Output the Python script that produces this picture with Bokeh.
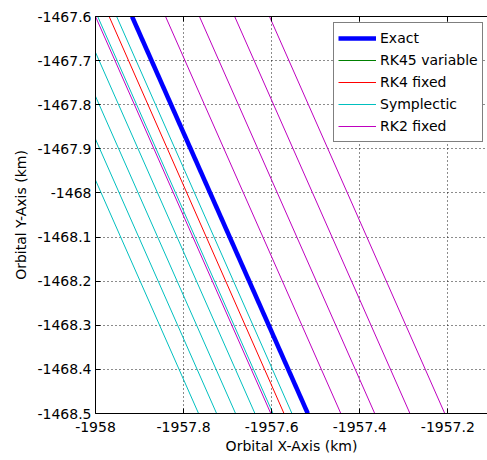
from bokeh.plotting import figure
from bokeh.models import FixedTicker, LinearAxis, CustomJSTickFormatter, Range1d, Legend, LegendItem
from bokeh.embed import file_html
from bokeh.resources import INLINE

# y extent of the plotted segments (km)
Y_TOP = -1467.6
Y_BOT = -1468.5

# x (km) of each trajectory line at Y_TOP and at Y_BOT
exact_top = [-1957.917]
exact_bot = [-1957.518]
rk45_top = [-1957.917]
rk45_bot = [-1957.518]
rk4_top = [-1957.969]
rk4_bot = [-1957.572]
symp_top = [-1958.164, -1958.123, -1958.080, -1958.036, -1957.995, -1957.952]
symp_bot = [-1957.766, -1957.725, -1957.682, -1957.638, -1957.597, -1957.554]
rk2_top = [-1958.000, -1957.841, -1957.764, -1957.684, -1957.605]
rk2_bot = [-1957.602, -1957.443, -1957.366, -1957.286, -1957.207]

x_ticks = [-1958.0, -1957.8, -1957.6, -1957.4, -1957.2]
y_ticks = [-1467.6, -1467.7, -1467.8, -1467.9, -1468.0, -1468.1, -1468.2, -1468.3, -1468.4, -1468.5]

FONT = "DejaVu Sans"
FS = "14px"

p = figure(width=487, height=459, output_backend="svg", toolbar_location=None,
           x_range=Range1d(-1958.0, -1957.11), y_range=Range1d(-1468.5, -1467.6),
           min_border_left=95, min_border_right=0, min_border_top=16, min_border_bottom=46)
p.outline_line_color = None
p.background_fill_color = "white"
p.border_fill_color = "white"

fmt = CustomJSTickFormatter(code="return String(Number(tick.toFixed(1)));")

for ax, ticks in ((p.xaxis[0], x_ticks), (p.yaxis[0], y_ticks)):
    ax.ticker = FixedTicker(ticks=ticks)
    ax.formatter = fmt
    ax.major_tick_in = 5
    ax.major_tick_out = 0
    ax.minor_tick_line_color = None
    ax.axis_line_color = "black"
    ax.major_tick_line_color = "black"
    ax.major_label_text_font = FONT
    ax.major_label_text_font_size = FS
    ax.major_label_text_color = "black"
    ax.axis_label_text_font = FONT
    ax.axis_label_text_font_size = FS
    ax.axis_label_text_font_style = "normal"
    ax.axis_label_text_color = "black"

p.xaxis[0].axis_label = "Orbital X-Axis (km)"
p.yaxis[0].axis_label = "Orbital Y-Axis (km)"
p.xaxis[0].major_label_standoff = 8
p.xaxis[0].axis_label_standoff = 3
p.yaxis[0].major_label_standoff = 4
p.yaxis[0].axis_label_standoff = 5

top = LinearAxis(ticker=FixedTicker(ticks=x_ticks), major_tick_in=5, major_tick_out=0,
                 minor_tick_line_color=None,
                 formatter=CustomJSTickFormatter(code="return '';"),
                 major_label_standoff=0, axis_line_color="black")
p.add_layout(top, "above")

for g, ticks in ((p.xgrid[0], x_ticks), (p.ygrid[0], y_ticks)):
    g.ticker = FixedTicker(ticks=ticks)
    g.grid_line_color = "black"
    g.grid_line_dash = "1 3"
    g.grid_line_width = 1
    g.grid_line_alpha = 0.9

r45 = p.segment(x0=rk45_top, y0=[Y_TOP] * len(rk45_top), x1=rk45_bot, y1=[Y_BOT] * len(rk45_bot),
                line_color="#008000", line_width=1)
rex = p.segment(x0=exact_top, y0=[Y_TOP] * len(exact_top), x1=exact_bot, y1=[Y_BOT] * len(exact_bot),
                line_color="#0000FF", line_width=4.5)
rr4 = p.segment(x0=rk4_top, y0=[Y_TOP] * len(rk4_top), x1=rk4_bot, y1=[Y_BOT] * len(rk4_bot),
                line_color="#FF0000", line_width=1)
rsy = p.segment(x0=symp_top, y0=[Y_TOP] * len(symp_top), x1=symp_bot, y1=[Y_BOT] * len(symp_bot),
                line_color="#00BFBF", line_width=1)
rr2 = p.segment(x0=rk2_top, y0=[Y_TOP] * len(rk2_top), x1=rk2_bot, y1=[Y_BOT] * len(rk2_bot),
                line_color="#BF00BF", line_width=1)

legend = Legend(items=[
    LegendItem(label="Exact", renderers=[rex]),
    LegendItem(label="RK45 variable", renderers=[r45]),
    LegendItem(label="RK4 fixed", renderers=[rr4]),
    LegendItem(label="Symplectic", renderers=[rsy]),
    LegendItem(label="RK2 fixed", renderers=[rr2]),
], location=(238, 271))
legend.label_text_font = FONT
legend.label_text_font_size = FS
legend.label_text_color = "black"
legend.label_height = 22
legend.glyph_height = 22
legend.glyph_width = 38
legend.label_standoff = 4
legend.spacing = 0
legend.padding = 4
legend.margin = 0
legend.border_line_color = "black"
legend.border_line_width = 1
legend.background_fill_color = "white"
legend.background_fill_alpha = 1.0
p.add_layout(legend)

open("out.html", "w").write(file_html(p, INLINE))
